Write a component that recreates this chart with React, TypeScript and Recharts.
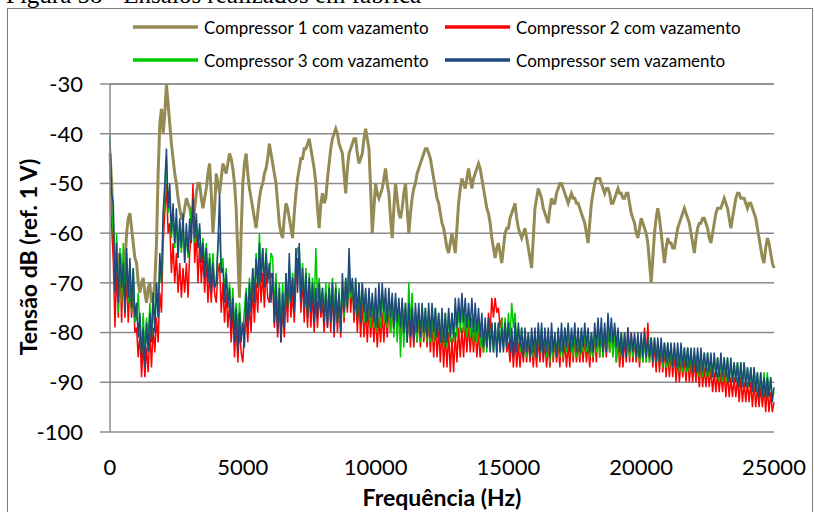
import React from 'react';
import { LineChart, Line, XAxis, YAxis, CartesianGrid } from 'recharts';

// frequency grid step (Hz) of the sampled spectra
const FREQ_STEP = 62.5;

// Compressor 1 com vazamento (dB ref. 1 V), one row per kHz
const C1 = [
  -44, -50, -62, -66, -68, -65, -64, -68, -70, -66, -60, -57, -56, -59, -62, -65,
  -66, -70, -72, -70, -69, -72, -74, -71, -70, -74, -73, -70, -62, -48, -38, -35,
  -40, -36, -30, -34, -38, -42, -45, -48, -50, -53, -55, -57, -57, -55, -53, -54,
  -55, -57, -58, -55, -52, -50, -50, -53, -55, -53, -51, -48, -46, -52, -60, -55,
  -48, -50, -52, -49, -46, -47, -48, -46, -44, -45, -47, -50, -55, -64, -73, -60,
  -50, -46, -44, -48, -51, -53, -55, -57, -59, -56, -53, -51, -50, -48, -47, -45,
  -42, -44, -46, -48, -50, -54, -58, -60, -61, -57, -54, -55, -57, -59, -61, -56,
  -52, -49, -47, -45, -45, -43, -43, -42, -41, -43, -45, -47, -50, -55, -59, -54,
  -52, -54, -53, -49, -46, -43, -41, -40, -39, -40, -42, -43, -44, -48, -52, -47,
  -44, -43, -42, -41, -41, -44, -46, -45, -44, -41, -39, -41, -43, -51, -60, -55,
  -50, -52, -53, -52, -51, -49, -47, -50, -52, -57, -61, -55, -50, -53, -56, -57,
  -55, -52, -50, -55, -60, -56, -53, -51, -50, -48, -47, -46, -45, -44, -43, -43,
  -44, -45, -47, -49, -51, -53, -54, -56, -58, -59, -61, -63, -64, -62, -60, -62,
  -64, -59, -54, -51, -49, -50, -51, -49, -47, -49, -51, -49, -48, -47, -46, -47,
  -49, -51, -53, -55, -56, -58, -61, -63, -65, -63, -62, -64, -66, -63, -60, -59,
  -59, -57, -56, -55, -54, -57, -59, -60, -61, -60, -59, -61, -63, -65, -67, -61,
  -55, -53, -51, -52, -53, -55, -56, -57, -58, -55, -53, -54, -54, -52, -51, -50,
  -50, -51, -52, -53, -54, -53, -52, -53, -53, -54, -54, -55, -56, -57, -58, -60,
  -62, -58, -54, -52, -50, -49, -49, -49, -50, -51, -52, -51, -51, -52, -54, -54,
  -53, -52, -51, -52, -52, -53, -53, -52, -52, -54, -56, -57, -58, -60, -61, -59,
  -57, -58, -59, -60, -62, -66, -70, -65, -60, -57, -55, -57, -60, -63, -66, -63,
  -61, -62, -62, -63, -63, -61, -59, -58, -57, -56, -55, -56, -57, -58, -60, -62,
  -64, -61, -59, -58, -58, -57, -57, -58, -59, -61, -62, -60, -58, -56, -55, -55,
  -55, -54, -53, -54, -55, -57, -59, -57, -55, -53, -52, -52, -53, -53, -53, -54,
  -55, -54, -54, -55, -56, -57, -59, -61, -63, -65, -66, -63, -61, -62, -64, -66,
  -67,
];

// Compressor 2 com vazamento
const C2 = [
  -45, -58, -66, -79, -67, -77, -65, -78, -66, -77, -68, -78, -70, -77, -72, -80,
  -79, -85, -80, -89, -82, -89, -83, -88, -80, -87, -79, -84, -77, -82, -72, -76,
  -62, -56, -50, -60, -58, -68, -62, -70, -64, -72, -66, -73, -67, -72, -66, -73,
  -64, -60, -50, -66, -60, -70, -62, -70, -64, -72, -65, -74, -68, -74, -67, -72,
  -74, -68, -66, -76, -70, -78, -72, -79, -74, -82, -75, -85, -78, -86, -79, -84,
  -86, -80, -76, -82, -74, -80, -71, -78, -70, -76, -66, -74, -68, -75, -67, -73,
  -74, -68, -69, -79, -73, -81, -74, -82, -75, -81, -72, -78, -69, -77, -72, -78,
  -70, -65, -66, -76, -69, -78, -70, -79, -71, -79, -72, -80, -73, -79, -72, -77,
  -74, -80, -72, -79, -72, -80, -71, -81, -72, -80, -73, -81, -71, -78, -70, -76,
  -67, -76, -70, -78, -72, -80, -73, -81, -74, -81, -75, -82, -75, -81, -76, -82,
  -76, -83, -77, -82, -76, -82, -75, -81, -75, -80, -74, -80, -74, -79, -75, -80,
  -74, -81, -75, -82, -75, -83, -76, -83, -77, -82, -76, -83, -76, -82, -77, -83,
  -77, -84, -78, -85, -78, -85, -79, -86, -79, -87, -80, -87, -80, -88, -81, -88,
  -80, -86, -79, -85, -79, -85, -78, -84, -78, -84, -79, -84, -79, -85, -80, -85,
  -80, -84, -79, -83, -76, -80, -73, -77, -73, -76, -75, -79, -77, -82, -79, -84,
  -82, -86, -81, -87, -81, -87, -82, -87, -82, -86, -81, -86, -81, -86, -82, -87,
  -82, -87, -81, -86, -81, -86, -82, -87, -82, -87, -81, -86, -81, -86, -82, -87,
  -81, -86, -82, -87, -82, -87, -81, -86, -81, -86, -82, -86, -82, -86, -81, -86,
  -82, -87, -81, -86, -80, -86, -78, -85, -80, -85, -80, -85, -79, -84, -80, -84,
  -79, -86, -81, -87, -82, -87, -81, -86, -79, -86, -80, -86, -81, -86, -82, -87,
  -81, -86, -79, -86, -78, -86, -81, -87, -82, -88, -82, -88, -83, -88, -83, -89,
  -84, -89, -84, -89, -84, -90, -85, -90, -85, -89, -85, -90, -85, -90, -86, -90,
  -86, -90, -86, -91, -86, -91, -87, -91, -87, -91, -87, -92, -88, -92, -88, -92,
  -88, -92, -88, -93, -88, -93, -89, -93, -89, -93, -89, -94, -89, -94, -90, -94,
  -90, -94, -90, -95, -90, -95, -91, -95, -91, -95, -91, -96, -91, -96, -92, -96,
  -94,
];

// Compressor 3 com vazamento
const C3 = [
  -40, -55, -60, -70, -60, -76, -63, -74, -62, -75, -64, -74, -66, -76, -67, -78,
  -77, -72, -79, -84, -76, -85, -77, -82, -74, -81, -72, -79, -70, -77, -66, -70,
  -58, -52, -45, -56, -53, -61, -56, -63, -57, -65, -58, -64, -58, -66, -60, -65,
  -60, -55, -55, -62, -58, -63, -59, -65, -61, -67, -62, -69, -64, -70, -64, -71,
  -70, -62, -60, -68, -65, -72, -67, -74, -70, -77, -71, -79, -74, -80, -74, -79,
  -80, -75, -71, -77, -69, -75, -67, -73, -64, -71, -60, -69, -63, -70, -63, -69,
  -69, -64, -65, -76, -68, -78, -70, -79, -70, -78, -68, -75, -66, -74, -68, -73,
  -66, -63, -63, -73, -66, -75, -67, -76, -68, -75, -69, -76, -63, -73, -69, -75,
  -71, -77, -70, -77, -70, -76, -69, -78, -70, -78, -71, -79, -70, -77, -69, -75,
  -66, -73, -70, -76, -70, -77, -70, -77, -70, -78, -72, -78, -72, -79, -73, -79,
  -73, -80, -72, -79, -72, -78, -73, -79, -73, -80, -73, -81, -73, -82, -74, -85,
  -75, -83, -74, -82, -70, -79, -72, -80, -76, -82, -75, -82, -75, -81, -75, -82,
  -76, -82, -75, -82, -75, -81, -76, -82, -76, -83, -76, -83, -76, -82, -76, -82,
  -76, -81, -75, -80, -75, -80, -76, -81, -76, -81, -77, -82, -77, -82, -77, -83,
  -79, -84, -78, -84, -78, -83, -78, -84, -78, -84, -78, -84, -77, -83, -77, -83,
  -76, -81, -74, -79, -76, -82, -79, -84, -79, -84, -80, -85, -80, -85, -80, -85,
  -80, -85, -79, -84, -79, -84, -80, -85, -80, -86, -80, -85, -80, -85, -80, -85,
  -80, -85, -79, -84, -79, -84, -80, -85, -80, -85, -80, -85, -80, -84, -80, -84,
  -81, -85, -80, -85, -80, -84, -79, -85, -79, -85, -79, -84, -79, -84, -80, -85,
  -80, -86, -80, -85, -80, -84, -80, -85, -80, -85, -81, -85, -81, -85, -81, -86,
  -81, -86, -81, -86, -81, -86, -81, -86, -81, -86, -82, -86, -82, -87, -82, -87,
  -82, -87, -83, -87, -83, -87, -83, -88, -83, -88, -83, -88, -83, -88, -84, -88,
  -84, -88, -84, -89, -84, -89, -84, -89, -84, -89, -85, -89, -85, -89, -85, -90,
  -85, -90, -85, -90, -85, -90, -86, -90, -86, -90, -86, -91, -86, -91, -86, -91,
  -87, -91, -87, -92, -87, -92, -88, -93, -88, -93, -88, -93, -88, -93, -89, -93,
  -92,
];

// Compressor sem vazamento
const C0 = [
  -41, -52, -54, -72, -62, -74, -64, -71, -66, -76, -63, -73, -65, -75, -67, -77,
  -74, -81, -76, -85, -79, -87, -78, -84, -76, -82, -72, -80, -70, -77, -64, -70,
  -56, -50, -43, -55, -50, -60, -54, -62, -55, -65, -57, -63, -56, -66, -58, -64,
  -57, -62, -53, -61, -56, -63, -58, -66, -62, -69, -63, -70, -65, -72, -66, -71,
  -70, -63, -52, -68, -67, -74, -68, -75, -71, -79, -73, -82, -75, -84, -76, -82,
  -78, -83, -72, -79, -70, -76, -67, -74, -65, -71, -62, -70, -63, -71, -64, -70,
  -66, -74, -68, -78, -70, -80, -71, -82, -72, -79, -68, -75, -64, -74, -69, -76,
  -63, -72, -62, -74, -67, -75, -68, -77, -69, -76, -70, -78, -71, -77, -70, -76,
  -71, -78, -72, -79, -71, -78, -70, -80, -71, -78, -72, -80, -68, -76, -69, -75,
  -63, -72, -69, -76, -69, -77, -70, -78, -70, -76, -71, -78, -71, -77, -72, -78,
  -71, -79, -70, -77, -70, -76, -71, -78, -71, -77, -72, -79, -72, -78, -73, -79,
  -73, -80, -74, -82, -74, -81, -75, -82, -74, -80, -74, -81, -74, -80, -75, -81,
  -74, -81, -74, -80, -75, -81, -76, -82, -75, -82, -76, -82, -75, -81, -76, -81,
  -73, -79, -73, -78, -72, -78, -73, -79, -74, -79, -73, -80, -74, -80, -75, -81,
  -76, -83, -77, -83, -77, -84, -78, -84, -78, -85, -78, -84, -79, -84, -78, -83,
  -78, -84, -79, -85, -78, -84, -78, -83, -79, -85, -79, -84, -80, -85, -79, -84,
  -79, -85, -78, -84, -78, -85, -79, -84, -79, -85, -78, -84, -80, -85, -79, -84,
  -78, -84, -79, -83, -78, -84, -79, -83, -78, -84, -79, -84, -79, -83, -78, -83,
  -79, -84, -80, -84, -78, -83, -77, -83, -77, -84, -78, -84, -76, -82, -77, -82,
  -78, -83, -79, -84, -80, -85, -80, -85, -79, -84, -80, -84, -80, -85, -80, -85,
  -80, -85, -80, -85, -81, -85, -81, -86, -81, -86, -81, -86, -81, -86, -82, -86,
  -82, -86, -82, -87, -82, -87, -82, -87, -82, -87, -83, -87, -83, -87, -83, -88,
  -83, -88, -83, -88, -83, -88, -84, -88, -84, -88, -84, -89, -84, -89, -85, -89,
  -84, -89, -85, -89, -85, -90, -85, -90, -86, -90, -86, -91, -86, -91, -86, -91,
  -87, -91, -87, -92, -87, -92, -88, -93, -88, -93, -89, -93, -89, -93, -89, -94,
  -91,
];

const X_TICKS = [0, 5000, 10000, 15000, 20000, 25000];
const Y_TICKS = [-100, -90, -80, -70, -60, -50, -40, -30];

const SERIES = [
  { key: 'c1', name: 'Compressor 1 com vazamento', color: '#948A54', width: 3 },
  { key: 'c2', name: 'Compressor 2 com vazamento', color: '#FF0000', width: 1.5 },
  { key: 'c3', name: 'Compressor 3 com vazamento', color: '#00C800', width: 1.5 },
  { key: 'c0', name: 'Compressor sem vazamento', color: '#1F497D', width: 1.5 },
];

const CAPTION = 'Figura 58 - Ensaios realizados em fábrica';
const X_TITLE = 'Frequência (Hz)';
const Y_TITLE = 'Tensão dB (ref. 1 V)';

const data = C1.map((v, i) => ({
  f: i * FREQ_STEP,
  c1: v,
  c2: C2[i],
  c3: C3[i],
  c0: C0[i],
}));

const GRID = '#8C8C8C';
const FONT = 'Lato, "Open Sans", sans-serif';

export default function App() {
  const legendPos = [
    { x: 133, y: 27 },
    { x: 445, y: 27 },
    { x: 133, y: 60 },
    { x: 445, y: 60 },
  ];
  return (
    <div style={{ position: 'absolute', left: 0, top: 0, width: 815, height: 512, overflow: 'hidden', background: '#fff' }}>
      <div style={{ position: 'absolute', left: 0, top: 0 }}>
        <LineChart width={815} height={512} data={data} margin={{ top: 83, right: 41, bottom: 50, left: 0 }}>
          <CartesianGrid vertical={false} stroke={GRID} strokeWidth={1.5} />
          <XAxis
            xAxisId="b"
            dataKey="f"
            type="number"
            domain={[0, 25000]}
            ticks={X_TICKS}
            interval={0}
            axisLine={false}
            tickLine={false}
            tickMargin={21}
            height={30}
            tick={{ fill: '#000', fontSize: 22, fontFamily: FONT }}
          />
          <XAxis
            xAxisId="t"
            orientation="top"
            dataKey="f"
            type="number"
            domain={[0, 25000]}
            ticks={X_TICKS}
            interval={0}
            height={1}
            tick={false}
            tickSize={-8}
            axisLine={{ stroke: GRID, strokeWidth: 1.5 }}
            tickLine={{ stroke: GRID, strokeWidth: 1.5 }}
          />
          <YAxis
            type="number"
            domain={[-100, -30]}
            ticks={Y_TICKS}
            interval={0}
            width={110}
            tickSize={10}
            tickMargin={17}
            axisLine={{ stroke: GRID, strokeWidth: 1.5 }}
            tickLine={{ stroke: GRID, strokeWidth: 1.5 }}
            tick={{ fill: '#000', fontSize: 22, fontFamily: FONT }}
          />
          {SERIES.map((s) => (
            <Line
              key={s.key}
              xAxisId="b"
              type="linear"
              dataKey={s.key}
              name={s.name}
              stroke={s.color}
              strokeWidth={s.width}
              strokeLinejoin="miter"
              dot={false}
              activeDot={false}
              isAnimationActive={false}
            />
          ))}
        </LineChart>
      </div>
      <svg width={815} height={512} style={{ position: 'absolute', left: 0, top: 0, pointerEvents: 'none' }}>
        <text x={6} y={3} fontFamily='"Liberation Serif", "Times New Roman", serif' fontSize={25} fill="#000">{CAPTION}</text>
        <rect x={7.5} y={8.5} width={805} height={520} fill="none" stroke="#7F7F7F" strokeWidth={1} />
        {SERIES.map((s, j) => {
          const p = legendPos[j];
          return (
            <g key={s.key}>
              <line x1={p.x} y1={p.y} x2={p.x + 65} y2={p.y} stroke={s.color} strokeWidth={3.5} />
              <text x={p.x + 71} y={p.y} dominantBaseline="central" fontFamily={FONT} fontSize={17} fill="#000">{s.name}</text>
            </g>
          );
        })}
        <text x={442} y={497} textAnchor="middle" dominantBaseline="central" fontFamily={FONT} fontWeight="bold" fontSize={23} fill="#000">{X_TITLE}</text>
        <text x={0} y={0} transform="translate(28,257) rotate(-90)" textAnchor="middle" dominantBaseline="central" fontFamily={FONT} fontWeight="bold" fontSize={23} fill="#000">{Y_TITLE}</text>
      </svg>
    </div>
  );
}
